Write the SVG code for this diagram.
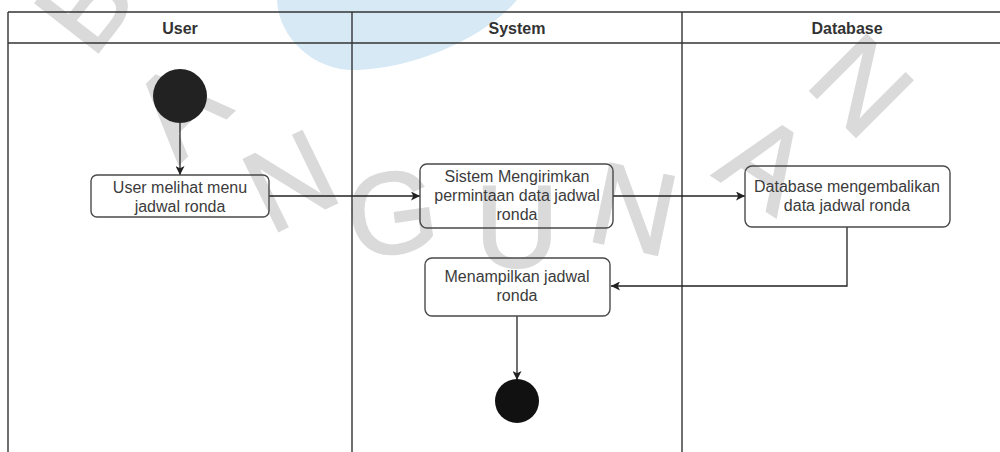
<svg xmlns="http://www.w3.org/2000/svg" width="1000" height="452" viewBox="0 0 1000 452">
  <style>
    .lane { stroke: #333; stroke-width: 1.4; fill: none; }
    .head { font-family: "Liberation Sans", Arial, sans-serif; font-size: 16px; font-weight: bold; fill: #333; text-anchor: middle; }
    .act { fill: none; stroke: #4a4a4a; stroke-width: 1.4; }
    .lbl { font-family: "Liberation Sans", Arial, sans-serif; font-size: 16px; fill: #3c3c3c; text-anchor: middle; }
    .flow { fill: none; stroke: #222; stroke-width: 1.3; }
    .wm { font-family: "Liberation Sans", Arial, sans-serif; font-size: 116px; fill: #dadada; stroke: #dadada; stroke-width: 2; text-anchor: middle; }
  </style>
  <defs>
    <marker id="arrow" viewBox="0 0 10 10" refX="10" refY="5" markerWidth="9" markerHeight="9" markerUnits="userSpaceOnUse" orient="auto">
      <path d="M0,0 L10,5 L0,10 L2.5,5 Z" fill="#222"/>
    </marker>
  </defs>

  <rect width="1000" height="452" fill="#ffffff"/>

  <!-- background watermark -->
  <g id="watermark">
    <path d="M277,0 C279,40 316,72 358,70 C415,68 485,38 517,0 Z" fill="#d6e9f5"/>
    <text class="wm" transform="translate(84,4) rotate(-52)" y="41">B</text>
    <text class="wm" transform="translate(178,108) rotate(-44)" y="41">A</text>
    <text class="wm" transform="translate(290,180) rotate(-26)" y="41">N</text>
    <text class="wm" transform="translate(392,212) rotate(-8)" y="41">G</text>
    <text class="wm" transform="translate(517,226) rotate(0)" y="41">U</text>
    <text class="wm" transform="translate(634,208) rotate(12)" y="41">N</text>
    <text class="wm" transform="translate(766,162) rotate(33)" y="41">A</text>
    <text class="wm" transform="translate(862,85) rotate(45)" y="41">N</text>
  </g>

  <!-- swimlane frame -->
  <g id="lanes">
    <line class="lane" x1="8" y1="12" x2="1000" y2="12"/>
    <line class="lane" x1="8" y1="43" x2="1000" y2="43"/>
    <line class="lane" x1="8" y1="12" x2="8" y2="452"/>
    <line class="lane" x1="352" y1="12" x2="352" y2="452"/>
    <line class="lane" x1="682" y1="12" x2="682" y2="452"/>
    <text class="head" x="180" y="34">User</text>
    <text class="head" x="517" y="34">System</text>
    <text class="head" x="847" y="34">Database</text>
  </g>

  <!-- connectors -->
  <g id="connectors">
    <line class="flow" x1="180" y1="123" x2="180" y2="175" marker-end="url(#arrow)"/>
    <line class="flow" x1="269" y1="196" x2="420" y2="196" marker-end="url(#arrow)"/>
    <line class="flow" x1="613" y1="196" x2="745" y2="196" marker-end="url(#arrow)"/>
    <polyline class="flow" points="847,227 847,286 611,286" marker-end="url(#arrow)"/>
    <line class="flow" x1="517" y1="316" x2="517" y2="380" marker-end="url(#arrow)"/>
  </g>

  <g id="start">
    <circle cx="180" cy="96" r="27" fill="#222"/>
  </g>

  <g id="user-view-menu">
    <rect class="act" x="91" y="175" width="178" height="42" rx="6"/>
    <text class="lbl" x="180" y="193">User melihat menu</text>
    <text class="lbl" x="180" y="212">jadwal ronda</text>
  </g>

  <g id="system-request">
    <rect class="act" x="420" y="164" width="193" height="64" rx="7"/>
    <text class="lbl" x="517" y="182">Sistem Mengirimkan</text>
    <text class="lbl" x="517" y="201">permintaan data jadwal</text>
    <text class="lbl" x="517" y="220">ronda</text>
  </g>

  <g id="db-return">
    <rect class="act" x="745" y="166" width="205" height="61" rx="7"/>
    <text class="lbl" x="847" y="192">Database mengembalikan</text>
    <text class="lbl" x="847" y="211">data jadwal ronda</text>
  </g>

  <g id="system-show">
    <rect class="act" x="425" y="258" width="185" height="58" rx="7"/>
    <text class="lbl" x="517" y="282">Menampilkan jadwal</text>
    <text class="lbl" x="517" y="301">ronda</text>
  </g>

  <g id="end">
    <circle cx="517" cy="401" r="22" fill="#111"/>
  </g>
</svg>
